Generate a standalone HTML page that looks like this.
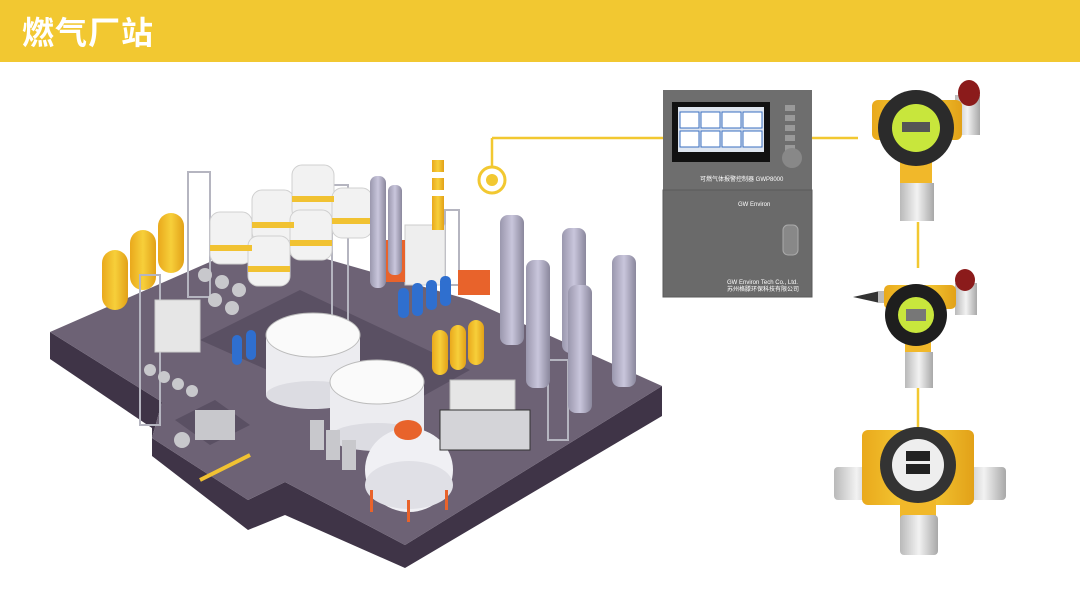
<!DOCTYPE html>
<html><head><meta charset="utf-8"><style>
body{margin:0;width:1080px;height:609px;background:#fff;overflow:hidden;font-family:"Liberation Sans","Noto Sans CJK SC",sans-serif}
.hd{position:absolute;left:0;top:0;width:1080px;height:62px;background:#f2c831}
.hd span{position:absolute;left:22px;top:8px;color:#fff;font-size:32px;font-weight:bold;letter-spacing:1px}
svg{position:absolute;left:0;top:0}
</style></head><body>
<div class="hd"><span>燃气厂站</span></div>
<svg width="1080" height="609" viewBox="0 0 1080 609">
<defs>
<linearGradient id="met" x1="0" x2="1"><stop offset="0" stop-color="#b9b9b9"/><stop offset=".5" stop-color="#f2f2f2"/><stop offset="1" stop-color="#a8a8a8"/></linearGradient>
<linearGradient id="col" x1="0" x2="1"><stop offset="0" stop-color="#9a97ad"/><stop offset=".5" stop-color="#c9c6dc"/><stop offset="1" stop-color="#8a879c"/></linearGradient>
<linearGradient id="yel" x1="0" x2="1"><stop offset="0" stop-color="#e9a91c"/><stop offset=".5" stop-color="#f7cf3a"/><stop offset="1" stop-color="#e2a118"/></linearGradient>
</defs>
<!-- connectors -->
<g stroke="#f2c831" stroke-width="2.5" fill="none">
<line x1="492" y1="138" x2="663" y2="138"/><line x1="492" y1="138" x2="492" y2="166"/>
<line x1="805" y1="138" x2="858" y2="138"/>
<line x1="918" y1="222" x2="918" y2="268"/><line x1="918" y1="388" x2="918" y2="428"/>
</g>
<circle cx="492" cy="180" r="13" fill="#fff" stroke="#f2c831" stroke-width="3"/>
<circle cx="492" cy="180" r="6" fill="#f2c831"/>
<!-- platform sides -->
<polygon points="50,332 50,359 152,428 152,456 248,530 285,515 405,568 662,416 662,386 405,545 285,482 248,500 152,438 162,402" fill="#3f3447"/>
<!-- platform top -->
<polygon points="50,332 162,402 152,438 248,500 285,482 405,545 662,386 470,300 260,240 50,332" fill="#6d6275"/>
<polygon points="200,340 300,290 470,370 380,420" fill="#5a5063"/>
<polygon points="175,420 215,400 250,425 210,445" fill="#5a5063"/>
<!-- yellow tanks -->
<g fill="url(#yel)"><rect x="102" y="250" width="26" height="60" rx="13"/><rect x="130" y="230" width="26" height="60" rx="13"/><rect x="158" y="213" width="26" height="60" rx="13"/></g>
<g stroke="#b5b5c0" stroke-width="2" fill="none"><rect x="188" y="172" width="22" height="125"/><rect x="140" y="275" width="20" height="150"/><rect x="332" y="185" width="16" height="200"/><rect x="445" y="210" width="14" height="75"/><rect x="548" y="360" width="20" height="80"/></g>
<!-- white tanks -->
<g fill="#f2f2f2" stroke="#d0d0d0">
<rect x="210" y="212" width="42" height="52" rx="10"/><rect x="252" y="190" width="42" height="52" rx="10"/><rect x="292" y="165" width="42" height="55" rx="10"/>
<rect x="248" y="236" width="42" height="50" rx="10"/><rect x="290" y="210" width="42" height="50" rx="10"/><rect x="332" y="188" width="40" height="50" rx="10"/>
</g>
<g fill="#f1c232"><rect x="210" y="245" width="42" height="6"/><rect x="252" y="222" width="42" height="6"/><rect x="292" y="196" width="42" height="6"/><rect x="248" y="266" width="42" height="6"/><rect x="290" y="240" width="42" height="6"/><rect x="332" y="218" width="40" height="6"/></g>
<!-- big storage tanks -->
<rect x="266" y="335" width="94" height="60" fill="#ececf0"/><ellipse cx="313" cy="395" rx="47" ry="14" fill="#dcdce2"/><ellipse cx="313" cy="335" rx="47" ry="22" fill="#fafafa" stroke="#bbb"/>
<rect x="330" y="382" width="94" height="55" fill="#ececf0"/><ellipse cx="377" cy="437" rx="47" ry="14" fill="#dcdce2"/><ellipse cx="377" cy="382" rx="47" ry="22" fill="#fafafa" stroke="#bbb"/>
<!-- dome -->
<ellipse cx="409" cy="470" rx="44" ry="42" fill="#f0f0f4"/><ellipse cx="409" cy="485" rx="44" ry="24" fill="#e0e0e6"/>
<ellipse cx="408" cy="430" rx="14" ry="10" fill="#e8632b"/>
<rect x="370" y="490" width="3" height="22" fill="#e8632b"/><rect x="407" y="500" width="3" height="22" fill="#e8632b"/><rect x="445" y="490" width="3" height="20" fill="#e8632b"/>
<!-- buildings -->
<rect x="405" y="225" width="40" height="60" fill="#eee" stroke="#ccc"/><rect x="375" y="240" width="30" height="42" fill="#e8632b"/><rect x="458" y="270" width="32" height="25" fill="#e8632b"/>
<rect x="432" y="160" width="12" height="70" fill="url(#yel)"/><rect x="432" y="172" width="12" height="6" fill="#fff"/><rect x="432" y="190" width="12" height="6" fill="#fff"/>
<rect x="155" y="300" width="45" height="52" fill="#e6e6e6" stroke="#ccc"/>
<rect x="450" y="380" width="65" height="45" fill="#e6e6e6" stroke="#bbb"/><rect x="440" y="410" width="90" height="40" fill="#d4d4d8" stroke="#333"/>
<!-- blue tanks -->
<g fill="#2f6fcf"><rect x="398" y="288" width="11" height="30" rx="5"/><rect x="412" y="283" width="11" height="33" rx="5"/><rect x="426" y="280" width="11" height="30" rx="5"/><rect x="440" y="276" width="11" height="30" rx="5"/><rect x="232" y="335" width="10" height="30" rx="5"/><rect x="246" y="330" width="10" height="30" rx="5"/></g>
<g fill="url(#yel)"><rect x="432" y="330" width="16" height="45" rx="8"/><rect x="450" y="325" width="16" height="45" rx="8"/><rect x="468" y="320" width="16" height="45" rx="8"/></g>
<!-- gray columns -->
<g fill="url(#col)"><rect x="500" y="215" width="24" height="130" rx="8"/><rect x="526" y="260" width="24" height="128" rx="8"/><rect x="562" y="228" width="24" height="125" rx="8"/><rect x="568" y="285" width="24" height="128" rx="8"/><rect x="612" y="255" width="24" height="132" rx="8"/><rect x="370" y="176" width="16" height="112" rx="7"/><rect x="388" y="185" width="14" height="90" rx="6"/></g>
<!-- pipes/compressors -->
<g fill="#c8c8cc"><circle cx="205" cy="275" r="7"/><circle cx="222" cy="282" r="7"/><circle cx="239" cy="290" r="7"/><circle cx="215" cy="300" r="7"/><circle cx="232" cy="308" r="7"/><circle cx="150" cy="370" r="6"/><circle cx="164" cy="377" r="6"/><circle cx="178" cy="384" r="6"/><circle cx="192" cy="391" r="6"/><circle cx="182" cy="440" r="8"/><rect x="195" y="410" width="40" height="30"/><rect x="310" y="420" width="14" height="30"/><rect x="326" y="430" width="14" height="30"/><rect x="342" y="440" width="14" height="30"/></g>
<path d="M200 480 L250 455" stroke="#f1c232" stroke-width="4"/>
<!-- controller -->
<rect x="663" y="90" width="149" height="207" fill="#6e6e6e"/>
<rect x="663" y="190" width="149" height="107" fill="#6a6a6a" stroke="#5a5a5a"/>
<rect x="672" y="102" width="98" height="60" fill="#111"/>
<rect x="678" y="107" width="86" height="45" fill="#dfe6f0"/>
<g fill="#fff" stroke="#3a6fc0"><rect x="680" y="112" width="19" height="16"/><rect x="701" y="112" width="19" height="16"/><rect x="722" y="112" width="19" height="16"/><rect x="743" y="112" width="19" height="16"/><rect x="680" y="131" width="19" height="16"/><rect x="701" y="131" width="19" height="16"/><rect x="722" y="131" width="19" height="16"/><rect x="743" y="131" width="19" height="16"/></g>
<g fill="#999"><rect x="785" y="105" width="10" height="6"/><rect x="785" y="115" width="10" height="6"/><rect x="785" y="125" width="10" height="6"/><rect x="785" y="135" width="10" height="6"/><rect x="785" y="145" width="10" height="6"/></g>
<circle cx="792" cy="158" r="10" fill="#888"/>
<text x="700" y="181" font-size="6" fill="#fff">可燃气体报警控制器 GWP8000</text>
<text x="738" y="206" font-size="6" fill="#fff">GW Environ</text>
<rect x="783" y="225" width="15" height="30" rx="5" fill="#888" stroke="#aaa"/>
<text x="727" y="284" font-size="6" fill="#fff">GW Environ Tech Co., Ltd.</text>
<text x="727" y="291" font-size="6" fill="#fff">苏州格滕环保科技有限公司</text>
<!-- detector 1 -->
<rect x="955" y="95" width="25" height="40" fill="url(#met)"/><ellipse cx="969" cy="93" rx="11" ry="13" fill="#8b1b1b"/>
<rect x="872" y="100" width="90" height="40" rx="6" fill="url(#yel)"/>
<rect x="900" y="155" width="32" height="30" fill="#f1b82a"/>
<circle cx="916" cy="128" r="38" fill="#2b2b2b"/><circle cx="916" cy="128" r="24" fill="#c8e63c"/><rect x="902" y="122" width="28" height="10" fill="#555"/>
<rect x="900" y="183" width="34" height="38" fill="url(#met)"/>
<!-- detector 2 -->
<polygon points="853,297 880,291 880,303" fill="#333"/><rect x="878" y="291" width="20" height="12" fill="#bbb"/>
<rect x="955" y="283" width="22" height="32" fill="url(#met)"/><ellipse cx="965" cy="280" rx="10" ry="11" fill="#8b1b1b"/>
<rect x="884" y="285" width="72" height="24" rx="5" fill="url(#yel)"/>
<rect x="905" y="335" width="26" height="20" fill="#f1b82a"/>
<circle cx="916" cy="315" r="31" fill="#1e1e1e"/><circle cx="916" cy="315" r="18" fill="#c8e63c"/><rect x="906" y="309" width="20" height="12" fill="#777"/>
<rect x="905" y="352" width="28" height="36" fill="url(#met)"/>
<!-- detector 3 -->
<rect x="834" y="467" width="45" height="33" rx="4" fill="url(#met)"/><rect x="962" y="467" width="44" height="33" rx="4" fill="url(#met)"/>
<rect x="862" y="430" width="112" height="75" rx="6" fill="url(#yel)"/>
<rect x="900" y="500" width="36" height="20" fill="#f1b82a"/>
<circle cx="918" cy="465" r="38" fill="#333"/><circle cx="918" cy="465" r="26" fill="#eee"/>
<rect x="906" y="451" width="24" height="10" fill="#222"/><rect x="906" y="464" width="24" height="10" fill="#222"/>
<rect x="900" y="515" width="38" height="40" rx="4" fill="url(#met)"/>
</svg>
</body></html>
